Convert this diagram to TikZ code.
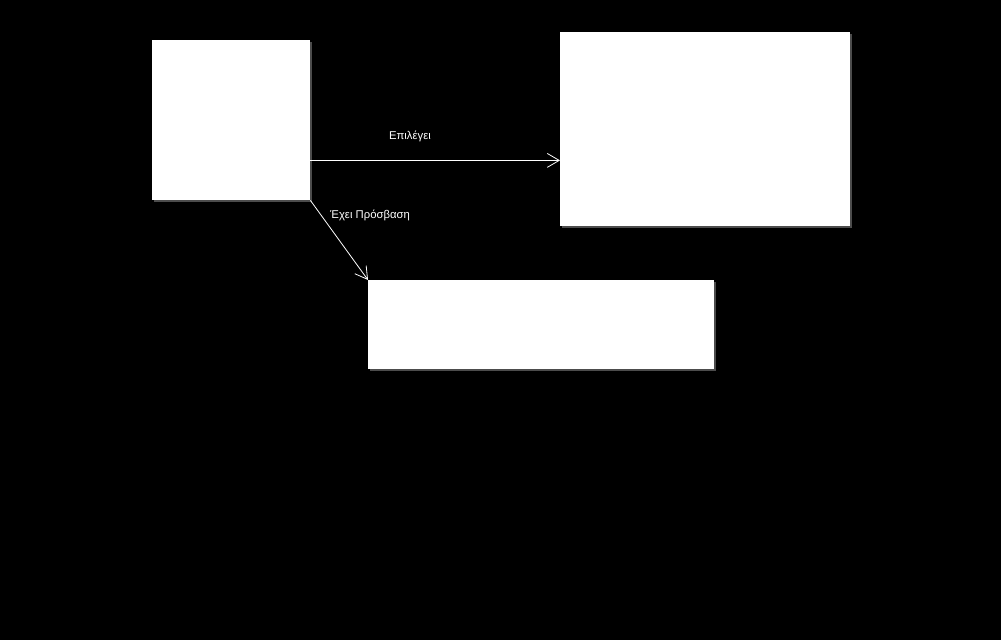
\documentclass[tikz,border=0pt]{standalone}
\usepackage{fontspec}
\setmainfont{Liberation Sans}
\usetikzlibrary{arrows.meta}
\begin{document}
\begin{tikzpicture}[x=1pt,y=-1pt,
  box/.style={draw=none,fill=white,inner sep=0pt,anchor=north west},
  conn/.style={draw=white,line width=0.8pt,-{Straight Barb[length=12pt,width=14pt,line width=0.8pt]}},
  lbl/.style={text=white,font=\fontsize{11.3}{13}\selectfont,inner sep=0pt}]
\fill[black] (0,0) rectangle (1001,640);
\useasboundingbox (0,0) rectangle (1001,640);
% shadows
\fill[gray!60!black] (154,42) rectangle (312,202);
\fill[gray!60!black] (562,34) rectangle (852,228);
\fill[gray!60!black] (370,282) rectangle (716,371);
\node[box,minimum width=158pt,minimum height=160pt] (a) at (152,40) {};
\node[box,minimum width=290pt,minimum height=194pt] (b) at (560,32) {};
\node[box,minimum width=346pt,minimum height=89pt] (c) at (368,280) {};
\coordinate (p) at ([yshift=40pt]a.south east);
\draw[conn] (p) -- (b.west |- p);
\draw[conn] (a.south east) -- (c.north west);
\node[lbl] (l1) at (410,136) {Επιλέγει};
\node[lbl] (l2) at (370,215) {Έχει Πρόσβαση};
\end{tikzpicture}
\end{document}
